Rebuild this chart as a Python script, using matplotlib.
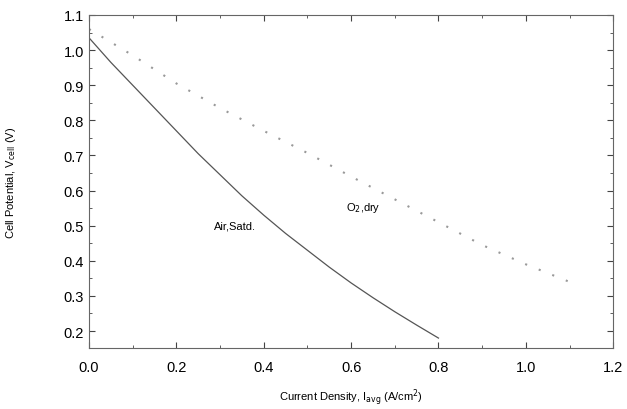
import numpy as np
from matplotlib import pyplot as plt
from matplotlib.ticker import MultipleLocator

# Polarization curves
air_i = [0.0, 0.05, 0.1, 0.15, 0.2, 0.25, 0.3, 0.35, 0.4, 0.45, 0.5, 0.55, 0.6, 0.65, 0.7, 0.75, 0.8]
air_v = [1.035, 0.965, 0.9, 0.835, 0.77, 0.705, 0.645, 0.585, 0.53, 0.478, 0.43, 0.382, 0.337, 0.295, 0.255, 0.217, 0.18]

o2_i = [0.0, 0.1, 0.2, 0.3, 0.4, 0.5, 0.6, 0.7, 0.8, 0.9, 1.0, 1.12]
o2_v = [1.06, 0.985, 0.905, 0.835, 0.77, 0.707, 0.64, 0.575, 0.51, 0.445, 0.39, 0.33]

plt.rcParams['font.family'] = ['Liberation Sans', 'DejaVu Sans']

fig = plt.figure(figsize=(6.27, 4.10), dpi=100)
ax = fig.add_axes([0.142, 0.149, 0.836, 0.812])

ax.plot(air_i, air_v, color='#555555', lw=0.9)
ax.plot(o2_i, o2_v, color='#999999', lw=1.5, linestyle=(0, (1, 6)))

ax.text(0.334, 0.5, 'Air,Satd.', fontsize=8, ha='center', va='center')
ax.text(0.628, 0.553, 'O$_2$,dry', fontsize=8, ha='center', va='center')

ax.set_xlim(0, 1.2)
ax.set_ylim(0.152, 1.1)
ax.xaxis.set_major_locator(MultipleLocator(0.2))
ax.xaxis.set_minor_locator(MultipleLocator(0.1))
ax.yaxis.set_major_locator(MultipleLocator(0.1))
ax.yaxis.set_minor_locator(MultipleLocator(0.05))
ax.xaxis.set_major_formatter(plt.FormatStrFormatter('%.1f'))
ax.yaxis.set_major_formatter(plt.FormatStrFormatter('%.1f'))
ax.tick_params(which='both', direction='in', top=True, right=True, labelsize=10.5, color='#444444')
ax.tick_params(which='major', length=4)
ax.tick_params(which='minor', length=2)
ax.tick_params(axis='x', pad=9)
for s in ax.spines.values():
    s.set_color('#666666')
    s.set_linewidth(0.8)

ax.set_xlabel('Current Density, I$_{\\mathrm{avg}}$ (A/cm$^2$)', fontsize=8, labelpad=8)
ax.set_ylabel('Cell Potential, V$_{\\mathrm{cell}}$ (V)', fontsize=8, labelpad=33)

fig.savefig('out.png', dpi=100)
